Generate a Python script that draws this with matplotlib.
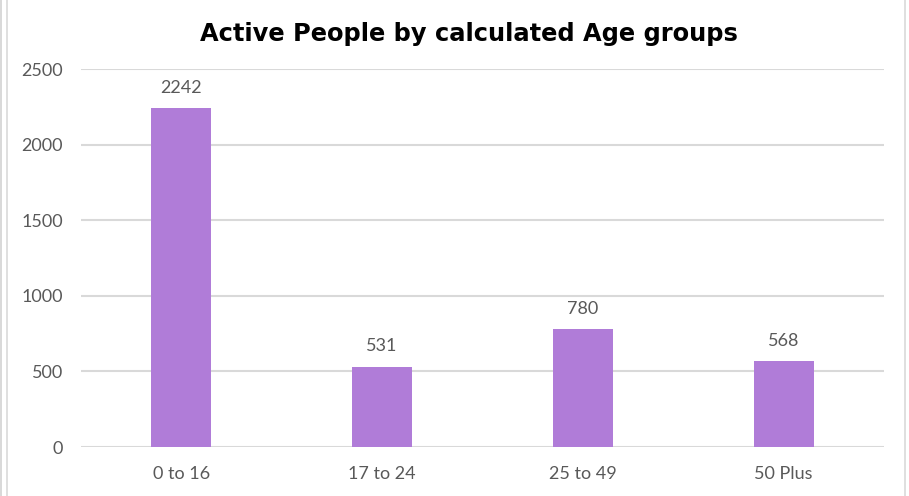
import matplotlib.pyplot as plt
from matplotlib.patches import Rectangle

# data
age_groups = ['0 to 16', '17 to 24', '25 to 49', '50 Plus']
active_people = [2242, 531, 780, 568]
y_ticks = [0, 500, 1000, 1500, 2000, 2500]

bar_color = '#B07CD8'
text_grey = '#595959'
grid_grey = '#D9D9D9'

plt.rcParams['font.family'] = ['Lato', 'DejaVu Sans']

fig = plt.figure(figsize=(9.09, 4.96), dpi=100)
ax = fig.add_axes([81 / 909, 1 - 447 / 496, (884 - 81) / 909, (447 - 69) / 496])

x = range(len(age_groups))
bars = ax.bar(x, active_people, width=0.3, color=bar_color, zorder=3)

for b, v in zip(bars, active_people):
    ax.annotate(str(v), (b.get_x() + b.get_width() / 2, v), xytext=(0, 9),
                textcoords='offset points', ha='center', va='bottom',
                fontsize=13, color=text_grey)

ax.set_xlim(-0.5, len(age_groups) - 0.5)
ax.set_ylim(0, 2500)
ax.set_yticks(y_ticks)
ax.set_xticks(list(x))
ax.set_xticklabels(age_groups)
ax.tick_params(axis='both', length=0, labelsize=13, labelcolor=text_grey)
ax.tick_params(axis='y', pad=13)
ax.tick_params(axis='x', pad=14)
ax.yaxis.grid(True, color=grid_grey, linewidth=1.5, zorder=0)
for s in ax.spines.values():
    s.set_visible(False)

fig.text(469 / 909, 1 - 34 / 496, 'Active People by calculated Age groups',
         ha='center', va='center', fontsize=17.4, fontweight='bold', color='black',
         family='DejaVu Sans')

# outer chart frame
fig.patches.append(Rectangle((7 / 909, -0.01), (905 - 7) / 909, 1.02,
                             transform=fig.transFigure, fill=False,
                             edgecolor='#D9D9D9', linewidth=1.2))
fig.patches.append(Rectangle((1 / 909, -0.01), 0, 1.02,
                             transform=fig.transFigure, fill=False,
                             edgecolor='#D9D9D9', linewidth=1.2))

fig.savefig('out.png', dpi=100)
